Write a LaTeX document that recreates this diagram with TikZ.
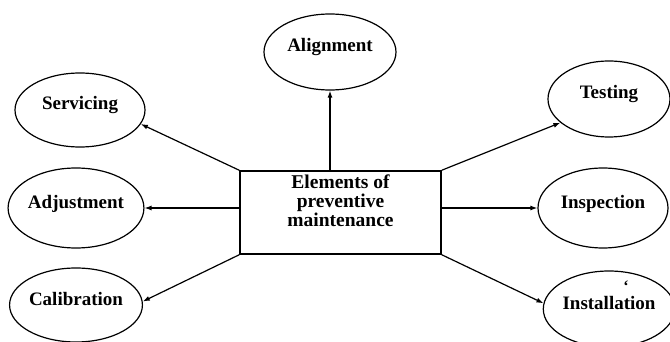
\documentclass[tikz,border=0pt]{standalone}
\usepackage{fontspec}
\setmainfont{Liberation Serif}
\usetikzlibrary{shapes.geometric,arrows.meta}
\begin{document}
\begin{tikzpicture}[x=1pt,y=-1pt,
  elem/.style={ellipse,draw,line width=1.2pt,inner sep=0pt,
    font=\fontsize{19}{19}\selectfont\bfseries,text height=13pt,text depth=13pt},
  hub/.style={rectangle,draw,line width=1.5pt,minimum width=201pt,minimum height=83pt},
  arr/.style={line width=1.2pt,-{Latex[length=7pt,width=5pt]}}]
\useasboundingbox (0,0) rectangle (670,342);
\node[hub,label={[anchor=north,align=center,yshift=-1pt,
  font=\fontsize{19.5}{19}\selectfont\bfseries]north:Elements of\\preventive\\maintenance}] (c) at (340.5,212.5) {};
\node[elem,minimum width=132pt,minimum height=76pt] (al) at (330,52) {Alignment};
\node[elem,minimum width=130pt,minimum height=74pt] (sv) at (80,110) {Servicing};
\node[elem,minimum width=122pt,minimum height=76pt] (ts) at (609,99) {Testing};
\node[elem,minimum width=132pt,minimum height=80pt] (ad) at (76,208) {Adjustment};
\node[elem,minimum width=130pt,minimum height=80pt] (isp) at (603,208) {Inspection};
\node[elem,minimum width=132pt,minimum height=74pt] (cb) at (76,305) {Calibration};
\node[elem,minimum width=122pt,minimum height=76pt] (inst) at (609,309) {Installation};
\node[font=\fontsize{16}{16}\selectfont\bfseries,inner sep=0pt] (tick) at (626,286) {\symbol{96}};
\draw[arr] (al.south |- c.north) -- (al.south);
\draw[arr] (c.north west) -- (sv.-13);
\draw[arr] (c.north east) -- (ts.206);
\draw[arr] (ad.east -| c.west) -- (ad.east);
\draw[arr] (isp.west -| c.east) -- (isp.west);
\draw[arr] (c.south west) -- (cb.3);
\draw[arr] (c.south east) -- (inst.175);
\end{tikzpicture}
\end{document}
